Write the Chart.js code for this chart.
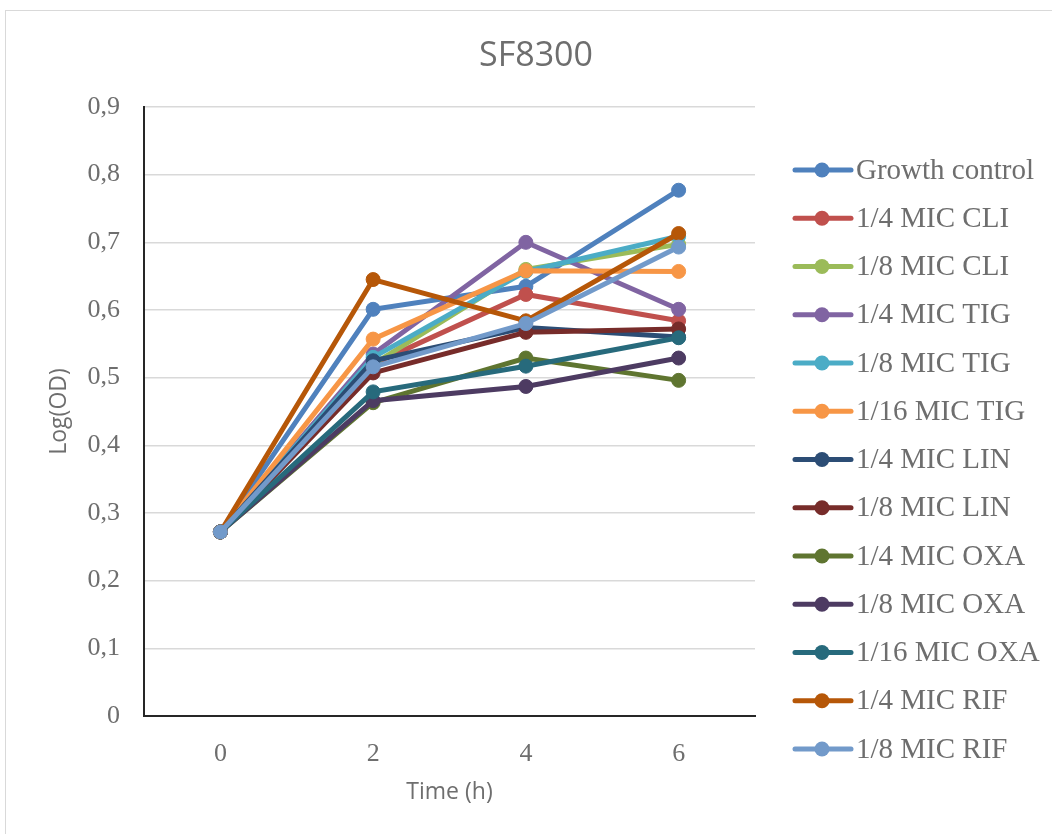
<!DOCTYPE html>
<html>
<head>
<meta charset="utf-8">
<script src="https://cdn.jsdelivr.net/npm/chart.js@4"></script>
<style>
html,body{margin:0;padding:0;background:#fff;overflow:hidden;width:1052px;height:834px;}
#frame{position:absolute;left:5px;top:10px;width:1100px;height:900px;border-left:1.5px solid #d9d9d9;border-top:1.5px solid #d9d9d9;}
#wrap{position:absolute;left:6px;top:10px;width:1060px;height:824px;}
</style>
</head>
<body>
<div id="frame"></div>
<div id="wrap"><canvas id="c" width="1060" height="824"></canvas></div>
<script>
const categories = ['0', '2', '4', '6'];
const seriesNames = ['Growth control','1/4 MIC CLI','1/8 MIC CLI','1/4 MIC TIG','1/8 MIC TIG','1/16 MIC TIG','1/4 MIC LIN','1/8 MIC LIN','1/4 MIC OXA','1/8 MIC OXA','1/16 MIC OXA','1/4 MIC RIF','1/8 MIC RIF'];
const growthControl = [0.272, 0.601, 0.635, 0.777];
const cli4 = [0.272, 0.520, 0.623, 0.584];
const cli8 = [0.272, 0.520, 0.660, 0.697];
const tig4 = [0.272, 0.535, 0.700, 0.601];
const tig8 = [0.272, 0.530, 0.657, 0.709];
const tig16 = [0.272, 0.557, 0.658, 0.657];
const lin4 = [0.272, 0.525, 0.574, 0.560];
const lin8 = [0.272, 0.507, 0.567, 0.572];
const oxa4 = [0.272, 0.463, 0.529, 0.496];
const oxa8 = [0.272, 0.466, 0.487, 0.529];
const oxa16 = [0.272, 0.479, 0.517, 0.559];
const rif4 = [0.272, 0.645, 0.584, 0.713];
const rif8 = [0.272, 0.516, 0.580, 0.693];
const yTicks = [0, 0.1, 0.2, 0.3, 0.4, 0.5, 0.6, 0.7, 0.8, 0.9];
const chartTitle = 'SF8300';
const colors = ['#4F81BD','#C0504D','#9BBB59','#8064A2','#4BACC6','#F79646','#2C4D75','#772C2A','#5F7530','#4D3B62','#276A7C','#B65708','#729ACA'];
const allSeries = [growthControl, cli4, cli8, tig4, tig8, tig16, lin4, lin8, oxa4, oxa8, oxa16, rif4, rif8];

const datasets = allSeries.map((d, i) => ({
  label: seriesNames[i],
  data: d,
  borderColor: colors[i],
  backgroundColor: colors[i],
  pointBackgroundColor: colors[i],
  pointBorderColor: colors[i],
  borderWidth: 5,
  pointRadius: 7,
  pointBorderWidth: 1,
  tension: 0,
  order: allSeries.length - i
}));

const legendPlugin = {
  id: 'customLegend',
  afterDraw(chart) {
    const ctx = chart.ctx;
    ctx.save();
    const x0 = 789, x1 = 845, xm = 816, tx = 850;
    const y0 = 160, dy = 48.25;
    ctx.font = '29px "Liberation Serif", "Times New Roman", serif';
    ctx.textBaseline = 'middle';
    ctx.textAlign = 'left';
    seriesNames.forEach((name, i) => {
      const y = y0 + i * dy;
      ctx.strokeStyle = colors[i];
      ctx.lineWidth = 5;
      ctx.lineCap = 'round';
      ctx.beginPath(); ctx.moveTo(x0, y); ctx.lineTo(x1, y); ctx.stroke();
      ctx.fillStyle = colors[i];
      ctx.beginPath(); ctx.arc(xm, y, 7.5, 0, Math.PI * 2); ctx.fill();
      ctx.fillStyle = '#6e6e6e';
      ctx.fillText(name, tx, y + 1);
    });
    // chart title, centered on the whole chart frame
    ctx.font = '34px "Open Sans", "Noto Sans", sans-serif';
    ctx.textAlign = 'center';
    ctx.textBaseline = 'middle';
    ctx.fillStyle = '#6e6e6e';
    ctx.fillText(chartTitle, 530, 46);
    ctx.restore();
  }
};

new Chart(document.getElementById('c'), {
  type: 'line',
  data: { labels: categories, datasets },
  options: {
    responsive: false,
    animation: false,
    layout: { padding: { left: 0, right: 311, top: 97, bottom: 0 } },
    plugins: {
      legend: { display: false },
      tooltip: { enabled: false },
      title: { display: false }
    },
    scales: {
      x: {
        type: 'category',
        offset: true,
        grid: { display: false, drawTicks: false },
        border: { display: true, color: '#262626', width: 2 },
        ticks: { color: '#6e6e6e', padding: 23, font: { family: '"Liberation Serif", "Times New Roman", serif', size: 26 } },
        title: { display: true, text: 'Time (h)', color: '#6e6e6e', font: { family: '"Open Sans", "Noto Sans", sans-serif', size: 23 }, padding: { top: 0, bottom: 28 } },
        afterFit(scale) { scale.height = 118; }
      },
      y: {
        min: 0, max: 0.9,
        afterBuildTicks(scale) { scale.ticks = yTicks.map(v => ({ value: v })); },
        grid: { color: '#d9d9d9', lineWidth: 1.5, drawTicks: false },
        border: { display: true, color: '#262626', width: 2 },
        ticks: {
          color: '#6e6e6e', padding: 24,
          font: { family: '"Liberation Serif", "Times New Roman", serif', size: 26 },
          callback: (v) => v === 0 ? '0' : v.toFixed(1).replace('.', ',')
        },
        title: { display: true, text: 'Log(OD)', color: '#6e6e6e', font: { family: '"Open Sans", "Noto Sans", sans-serif', size: 23 }, padding: { top: 40, bottom: 0 } },
        afterFit(scale) { scale.width = 138; }
      }
    }
  },
  plugins: [legendPlugin]
});
</script>
</body>
</html>
